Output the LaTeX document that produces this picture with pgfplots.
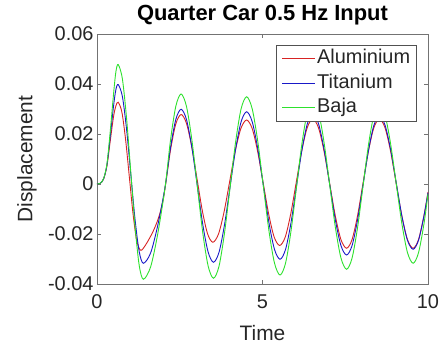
\documentclass[border=0pt]{standalone}
\usepackage{fontspec}
\setmainfont{Liberation Sans}
\usepackage{pgfplots}
\pgfplotsset{compat=1.18}
\definecolor{axgray}{RGB}{38,38,38}
\definecolor{cRed}{RGB}{215,35,35}
\definecolor{cBlue}{RGB}{25,25,200}
\definecolor{cGreen}{RGB}{45,225,45}
\begin{document}
\begin{tikzpicture}
\useasboundingbox (-97bp,-60bp) rectangle (346bp,284bp);
\begin{axis}[
  at={(0,0)}, anchor=south west,
  scale only axis, width=331bp, height=250bp,
  xmin=0, xmax=10, ymin=-0.04, ymax=0.06,
  scaled y ticks=false, scaled x ticks=false,
  xtick={0,5,10}, xticklabels={0,5,10},
  ytick={-0.04,-0.02,0,0.02,0.04,0.06},
  yticklabels={-0.04,-0.02,0,0.02,0.04,0.06},
  tick align=inside, major tick length=4bp,
  axis line style={black!55, line width=0.7bp},
  every tick/.style={black!55, line width=0.7bp},
  ticklabel style={font=\fontsize{20}{24}\selectfont, text=axgray},
  xticklabel style={yshift=-7bp},
  title={\textbf{Quarter Car 0.5 Hz Input}},
  title style={at={(axis description cs:0.5,1.032)}, anchor=base, font=\fontsize{22}{26}\selectfont, text=black},
  xlabel={Time}, ylabel={Displacement},
  xlabel style={at={(axis description cs:0.5,-0.224)}, anchor=base, font=\fontsize{21}{25}\selectfont, text=axgray},
  ylabel style={at={(axis description cs:-0.1949,0.5)}, anchor=base, font=\fontsize{21}{25}\selectfont, text=axgray},
  legend cell align=left,
  legend style={at={(1,1)}, anchor=north east, xshift=-11bp, yshift=-11bp,
    draw=axgray!80, line width=0.7bp, fill=white,
    font=\fontsize{20}{24}\selectfont, text=axgray,
    inner xsep=5bp, inner ysep=3bp, row sep=4bp,
    nodes={inner xsep=1.5bp, inner ysep=1bp, text height=14.5bp, text depth=4bp}},
  legend image code/.code={\draw[#1] (0bp,0bp) -- (33bp,0bp);},
]
\addplot[cRed, line width=0.9bp, smooth] coordinates {
(0,0) (0.1,0.0003) (0.2,0.002) (0.3,0.0072) (0.4,0.0172) (0.5,0.027) (0.57,0.0312) (0.64,0.0327)
(0.752,0.02873) (0.863,0.0179) (0.975,0.0031) (1.087,-0.0117) (1.198,-0.02253) (1.31,-0.0265)
(1.40,-0.0257) (1.5,-0.0237) (1.6,-0.0214) (1.7,-0.0188) (1.8,-0.0157) (1.9,-0.0118) (2.0,-0.0062) (2.08,0.0005) (2.22,0.0135) (2.38,0.0240) (2.54,0.0278)
(2.70,0.02438) (2.86,0.01503) (3.02,0.00225) (3.18,-0.01053) (3.34,-0.01988) (3.50,-0.0233)
(3.67,-0.02002) (3.84,-0.01108) (4.01,0.00115) (4.18,0.01338) (4.35,0.02232) (4.52,0.0256)
(4.687,0.02224) (4.853,0.01305) (5.02,0.0005) (5.187,-0.01205) (5.353,-0.02124) (5.52,-0.0246)
(5.687,-0.02121) (5.853,-0.01195) (6.02,0.0007) (6.187,0.01335) (6.353,0.02261) (6.52,0.026)
(6.69,0.02254) (6.86,0.01308) (7.03,0.00015) (7.20,-0.01278) (7.37,-0.02224) (7.54,-0.0257)
(7.705,-0.02224) (7.87,-0.01278) (8.035,0.00015) (8.20,0.01308) (8.365,0.02254) (8.53,0.026)
(8.70,0.02254) (8.87,0.01308) (9.04,0.00015) (9.21,-0.01278) (9.38,-0.02224) (9.55,-0.0257)
(9.713,-0.02224) (9.877,-0.01278) (10,-0.0032)
};
\addlegendentry{Aluminium}
\addplot[cBlue, line width=0.9bp, smooth] coordinates {
(0,0) (0.1,0.0003) (0.2,0.0021) (0.3,0.0076) (0.4,0.019) (0.5,0.0312) (0.57,0.0377) (0.64,0.0398)
(0.767,0.03501) (0.893,0.02193) (1.02,0.00405) (1.147,-0.01383) (1.273,-0.02691) (1.40,-0.0317)
(1.62,-0.02757) (1.84,-0.0163) (2.06,-0.0009) (2.22,0.0145) (2.38,0.02577) (2.54,0.0299)
(2.703,0.0258) (2.867,0.0146) (3.03,-0.0007) (3.193,-0.016) (3.357,-0.0272) (3.52,-0.0313)
(3.687,-0.02727) (3.853,-0.01625) (4.02,-0.0012) (4.187,0.01385) (4.353,0.02487) (4.52,0.0289)
(4.688,0.02495) (4.857,0.01415) (5.025,-0.0006) (5.193,-0.01535) (5.362,-0.02615) (5.53,-0.0301)
(5.695,-0.02621) (5.86,-0.01558) (6.025,-0.00105) (6.19,0.01348) (6.355,0.02411) (6.52,0.028)
(6.69,0.02422) (6.86,0.0139) (7.03,-0.0002) (7.20,-0.0143) (7.37,-0.02462) (7.54,-0.0284)
(7.705,-0.02467) (7.87,-0.0145) (8.035,-0.0006) (8.20,0.0133) (8.365,0.02347) (8.53,0.0272)
(8.70,0.02363) (8.87,0.01388) (9.04,0.00055) (9.21,-0.01278) (9.38,-0.02253) (9.55,-0.0261)
(9.713,-0.02254) (9.877,-0.01283) (10,-0.0035)
};
\addlegendentry{Titanium}
\addplot[cGreen, line width=0.9bp, smooth] coordinates {
(0,0) (0.1,0.0003) (0.2,0.0022) (0.3,0.008) (0.4,0.021) (0.5,0.036) (0.57,0.0448) (0.64,0.0478)
(0.767,0.04205) (0.893,0.02633) (1.02,0.00485) (1.147,-0.01663) (1.273,-0.03235) (1.40,-0.0381)
(1.62,-0.03314) (1.84,-0.01958) (2.06,-0.00105) (2.22,0.01748) (2.38,0.03104) (2.54,0.0360)
(2.703,0.03106) (2.867,0.01758) (3.03,-0.00085) (3.193,-0.01928) (3.357,-0.03276) (3.52,-0.0377)
(3.687,-0.03284) (3.853,-0.01955) (4.02,-0.0014) (4.187,0.01675) (4.353,0.03004) (4.52,0.0349)
(4.688,0.03012) (4.857,0.01708) (5.025,-0.00075) (5.193,-0.01858) (5.362,-0.03162) (5.53,-0.0364)
(5.695,-0.03172) (5.86,-0.01893) (6.025,-0.00145) (6.19,0.01603) (6.355,0.02882) (6.52,0.0335)
(6.69,0.02897) (6.86,0.0166) (7.03,-0.0003) (7.20,-0.0172) (7.37,-0.02957) (7.54,-0.0341)
(7.705,-0.02967) (7.87,-0.01758) (8.035,-0.00105) (8.20,0.01548) (8.365,0.02757) (8.53,0.0320)
(8.70,0.02773) (8.87,0.01608) (9.04,0.00015) (9.21,-0.01578) (9.38,-0.02743) (9.55,-0.0317)
(9.713,-0.0275) (9.877,-0.01603) (10,-0.004)
};
\addlegendentry{Baja}
\end{axis}
\end{tikzpicture}
\end{document}
